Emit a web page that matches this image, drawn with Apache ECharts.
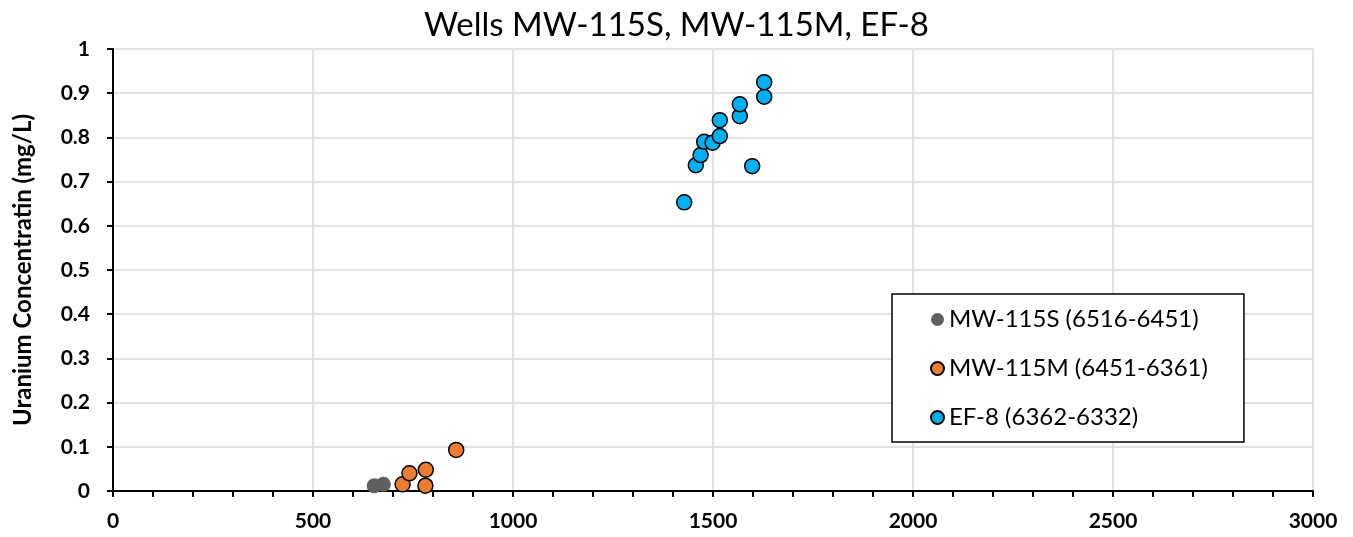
<!DOCTYPE html>
<html>
<head>
<meta charset="utf-8">
<script src="https://cdn.jsdelivr.net/npm/echarts@6/dist/echarts.min.js"></script>
<style>
  html, body { margin: 0; padding: 0; background: #fff; }
  #main { width: 1353px; height: 537px; }
</style>
</head>
<body>
<div id="main"></div>
<script>
// depth vs uranium
var mw115S = [[653, 0.012], [676, 0.015]];
var mw115M = [[724, 0.015], [741, 0.040], [782, 0.048], [781, 0.012], [858, 0.093]];
var ef8 = [
  [1428, 0.653], [1457, 0.737], [1469, 0.760], [1478, 0.790], [1499, 0.788],
  [1517, 0.803], [1517, 0.839], [1567, 0.848], [1567, 0.875], [1598, 0.735],
  [1628, 0.892], [1628, 0.925]
];
var seriesNames = ['MW-115S (6516-6451)', 'MW-115M (6451-6361)', 'EF-8 (6362-6332)'];

var font = 'Lato, "Open Sans", sans-serif';
var chart = echarts.init(document.getElementById('main'));

var option = {
  backgroundColor: '#fff',
  animation: false,
  title: {
    text: 'Wells MW-115S, MW-115M, EF-8',
    left: 'center',
    top: 4,
    textStyle: { fontFamily: font, fontSize: 33, fontWeight: 'normal', color: '#000' }
  },
  grid: { left: 113, right: 40, top: 49, bottom: 46, containLabel: false, outerBoundsMode: 'none' },
  legend: {
    orient: 'vertical',
    left: 892,
    top: 294,
    padding: [12, 36, 11, 38],
    itemGap: 22,
    itemWidth: 13,
    itemHeight: 13,
    borderColor: '#000',
    borderWidth: 1.5,
    backgroundColor: '#fff',
    textStyle: { fontFamily: font, fontSize: 24, color: '#000', lineHeight: 27 },
    data: seriesNames
  },
  xAxis: {
    type: 'value',
    min: 0, max: 3000, interval: 500,
    axisLine: { lineStyle: { color: '#000', width: 2 } },
    axisTick: { show: true, length: 6, lineStyle: { color: '#000', width: 2 } },
    minorTick: { show: true, splitNumber: 5, length: 6, lineStyle: { color: '#000', width: 2 } },
    splitLine: { show: true, lineStyle: { color: '#d9d9d9', width: 1.5 } },
    axisLabel: {
      fontFamily: font, fontSize: 21, fontWeight: 'bold', color: '#000', margin: 20,
      formatter: function (v) { return String(v); }
    }
  },
  yAxis: {
    type: 'value',
    min: 0, max: 1, interval: 0.1,
    name: 'Uranium Concentratin (mg/L)',
    nameLocation: 'middle',
    nameGap: 78,
    nameTextStyle: { fontFamily: font, fontSize: 24, fontWeight: 'bold', color: '#000' },
    axisLine: { show: true, lineStyle: { color: '#000', width: 2 } },
    axisTick: { show: true, length: 6, lineStyle: { color: '#000', width: 2 } },
    splitLine: { show: true, lineStyle: { color: '#d9d9d9', width: 1.5 } },
    axisLabel: { fontFamily: font, fontSize: 21, fontWeight: 'bold', color: '#000', margin: 23 }
  },
  series: [
    {
      name: seriesNames[0], type: 'scatter', data: mw115S, symbolSize: 15,
      itemStyle: { color: '#5f5f5f', opacity: 1 }
    },
    {
      name: seriesNames[1], type: 'scatter', data: mw115M, symbolSize: 15,
      itemStyle: { color: '#ed7d31', borderColor: '#000', borderWidth: 1.5, opacity: 1 }
    },
    {
      name: seriesNames[2], type: 'scatter', data: ef8, symbolSize: 15,
      itemStyle: { color: '#00b0f0', borderColor: '#000', borderWidth: 1.5, opacity: 1 }
    }
  ]
};

chart.setOption(option);
</script>
</body>
</html>
